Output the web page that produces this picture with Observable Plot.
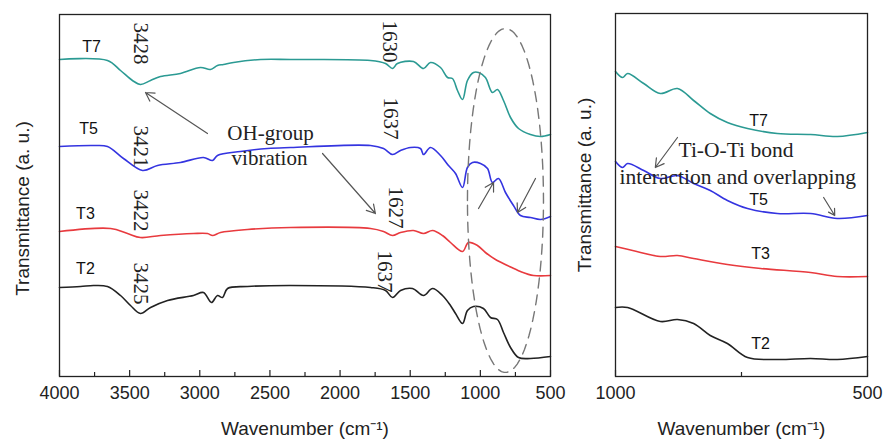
<!DOCTYPE html>
<html><head><meta charset="utf-8">
<script src="https://cdn.jsdelivr.net/npm/d3@7"></script>
<script src="https://cdn.jsdelivr.net/npm/@observablehq/plot@0.6"></script>
<style>
html,body{margin:0;padding:0;background:#fff;}
#wrap{display:flex;width:886px;height:441px;overflow:hidden;}
svg{display:block;}
</style></head><body><div id="wrap"></div>
<script>
// ---- Data (wavenumber cm^-1, transmittance a.u.) ----
const seriesNames = ["T7", "T5", "T3", "T2"];
const seriesColors = ["#2b9a93", "#3434e0", "#e83a3e", "#222222"];

const t7Left = [[4000,317],[3658,316],[3565,306],[3480,296],[3423,292],[3351,296],[3280,300],[3138,303],[2995,309],[2924,307],[2874,311],[2831,312],[2760,314],[2567,317],[2353,317],[1783,316],[1676,313],[1626,308],[1591,313],[1477,315],[1405,308],[1356,314],[1284,309],[1234,299],[1199,298],[1163,286],[1127,277],[1092,296],[1049,304],[1013,304],[964,299],[914,284],[878,287],[835,276],[785,259],[728,248],[643,242],[571,240],[500,242]];
const t5Left = [[4000,230],[3758,231],[3658,230],[3544,218],[3408,206],[3301,211],[3138,214],[2974,219],[2909,216],[2874,221],[2710,225],[2517,228],[2353,229],[1783,231],[1690,228],[1626,222],[1569,226],[1498,229],[1427,228],[1405,222],[1356,229],[1284,221],[1227,211],[1177,203],[1127,189],[1092,209],[1056,214],[999,213],[949,208],[914,194],[871,198],[821,184],[764,171],[714,161],[643,159],[571,157],[500,160]];
const t3Left = [[4000,145],[3636,148],[3515,143],[3423,139],[3280,141],[3045,143],[2945,143],[2909,141],[2852,144],[2660,147],[2353,149],[1783,148],[1690,145],[1626,141],[1569,144],[1477,146],[1405,143],[1341,146],[1270,141],[1213,134],[1127,125],[1085,134],[1021,131],[964,124],[892,117],[807,111],[714,105],[621,101],[500,101]];
const t2Left = [[4000,89],[3850,90],[3758,91],[3658,90],[3565,81],[3494,71],[3423,63],[3351,69],[3230,76],[3045,81],[2974,84],[2917,74],[2874,81],[2838,79],[2802,88],[2660,90],[2353,91],[1783,89],[1676,86],[1626,79],[1569,86],[1484,88],[1405,81],[1341,88],[1270,81],[1213,71],[1177,63],[1127,53],[1092,66],[1049,70],[978,68],[928,59],[878,57],[835,44],[785,29],[728,19],[643,18],[500,20]];

const t7Right = [[1000,305],[986,299],[976,303],[944,293],[911,283],[877,288],[845,276],[812,263],[778,254],[738,248],[679,243],[613,242],[560,240],[500,244]];
const t5Right = [[1000,215],[986,209],[976,213],[944,206],[911,198],[877,201],[845,193],[812,186],[778,176],[738,168],[679,163],[613,163],[560,158],[500,161]];
const t3Right = [[1000,130],[966,126],[911,120],[877,121],[845,118],[778,112],[712,108],[613,104],[560,100],[500,100]];
const t2Right = [[1000,69],[976,69],[911,55],[877,57],[845,53],[812,41],[778,33],[738,19],[679,17],[613,18],[560,17],[500,20]];

const leftMajorTicks = [4000,3500,3000,2500,2000,1500,1000,500];
const leftMinorTicks = [3750,3250,2750,2250,1750,1250,750];
const rightMajorTicks = [1000,500];
const rightMinorTicks = [750];

// series labels
const leftLabelWn = [3772,3793,3815,3815];
const leftLabelV = [330,248,163,108];
const rightLabelWn = [716,716,712,712];
const rightLabelV = [256,177,123,33];

// peak annotations
const peakText = ["3428","3421","3422","3425","1630","1637","1627","1637"];
const peakWn = [3423,3423,3423,3423,1648,1641,1605,1683];
const peakV = [333,230,166,93,335,258,169,105];

// arrows [x1,y1,x2,y2]
const leftArrows = [[2945,243,3387,284],[2125,223,1748,163],[1013,168,906,194],[607,198,735,164]];
const rightArrows = [[877,239,921,209],[587,179,565,161]];

const ohLines = ["OH-group","vibration"];
const ohWn = [2496,2503];
const ohV = [243,218];

const tiLines = ["Ti-O-Ti bond","interaction and overlapping"];
const tiWn = [875,992];
const tiV = [226,199];

// ---- helpers ----
const rows = a => a.map(([wn, v]) => ({wn, v}));
const sans = "Liberation Sans, Arial, sans-serif";
const serif = "Liberation Serif, Times New Roman, serif";

// dashed ellipse (decoration) around the Ti-O-Ti region
const ell = d3.range(0, 361, 4).map(t => ({wn: 821 + 271*Math.cos(t*Math.PI/180), v: 176 + 172*Math.sin(t*Math.PI/180)}));

function axes(major, minor) {
  return [
    Plot.ruleX(major, {x: d => d, y1: 0, y2: 6, stroke: "#222", strokeWidth: 1.2}),
    Plot.ruleX(minor, {x: d => d, y1: 0, y2: 4, stroke: "#222", strokeWidth: 1.2}),
    Plot.axisX({ticks: major, tickSize: 0, tickPadding: 10, tickFormat: d => String(d), fontSize: 18, fontFamily: sans, fill: "#222"})
  ];
}

const leftData = [t7Left, t5Left, t3Left, t2Left];
const rightData = [t7Right, t5Right, t3Right, t2Right];

const left = Plot.plot({
  width: 575, height: 441,
  marginLeft: 59, marginRight: 25, marginTop: 14, marginBottom: 65,
  x: {domain: [4000, 500], label: null, axis: null},
  y: {domain: [0, 362], axis: null},
  style: {background: "#fff", overflow: "visible"},
  marks: [
    ...leftData.map((d, i) => Plot.line(rows(d), {x: "wn", y: "v", stroke: seriesColors[i], strokeWidth: 1.6, curve: "catmull-rom"})),
    Plot.line(ell, {x: "wn", y: "v", stroke: "#777", strokeWidth: 1.4, strokeDasharray: "10,7"}),
    Plot.text(seriesNames, {x: (d, i) => leftLabelWn[i], y: (d, i) => leftLabelV[i], text: d => d, fontSize: 16, fontFamily: sans, fill: "#111"}),
    Plot.text(peakText, {x: (d, i) => peakWn[i], y: (d, i) => peakV[i], text: d => d, rotate: 90, fontSize: 21, fontFamily: serif, fill: "#222"}),
    Plot.text(ohLines, {x: (d, i) => ohWn[i], y: (d, i) => ohV[i], text: d => d, fontSize: 21, fontFamily: serif, fill: "#222"}),
    Plot.arrow(leftArrows, {x1: d => d[0], y1: d => d[1], x2: d => d[2], y2: d => d[3], stroke: "#555", strokeWidth: 1.2, headLength: 12}),
    Plot.frame({stroke: "#222", strokeWidth: 1.3}),
    ...axes(leftMajorTicks, leftMinorTicks),
    Plot.text(["Transmittance (a. u.)"], {frameAnchor: "left", textAnchor: "middle", lineAnchor: "middle", dx: -37, dy: 13, rotate: -90, fontSize: 19, fontFamily: sans, fill: "#222"}),
    Plot.text(["Wavenumber (cm\u207B\u00B9)"], {frameAnchor: "bottom", lineAnchor: "middle", dy: 52, fontSize: 19, fontFamily: sans, fill: "#222"})
  ]
});

const right = Plot.plot({
  width: 311, height: 441,
  marginLeft: 40, marginRight: 19, marginTop: 13, marginBottom: 65,
  x: {domain: [1000, 500], label: null, axis: null},
  y: {domain: [0, 363], axis: null},
  style: {background: "#fff", overflow: "visible"},
  marks: [
    ...rightData.map((d, i) => Plot.line(rows(d), {x: "wn", y: "v", stroke: seriesColors[i], strokeWidth: 1.6, curve: "catmull-rom"})),
    Plot.text(seriesNames, {x: (d, i) => rightLabelWn[i], y: (d, i) => rightLabelV[i], text: d => d, fontSize: 16, fontFamily: sans, fill: "#111"}),
    Plot.text(tiLines, {x: (d, i) => tiWn[i], y: (d, i) => tiV[i], text: d => d, textAnchor: "start", fontSize: 21.5, fontFamily: serif, fill: "#222"}),
    Plot.arrow(rightArrows, {x1: d => d[0], y1: d => d[1], x2: d => d[2], y2: d => d[3], stroke: "#555", strokeWidth: 1.2, headLength: 12}),
    Plot.frame({stroke: "#222", strokeWidth: 1.3}),
    ...axes(rightMajorTicks, rightMinorTicks),
    Plot.text(["Transmittance (a. u.)"], {frameAnchor: "left", textAnchor: "middle", lineAnchor: "middle", dx: -31, dy: -10, rotate: -90, fontSize: 19, fontFamily: sans, fill: "#222"}),
    Plot.text(["Wavenumber (cm\u207B\u00B9)"], {frameAnchor: "bottom", lineAnchor: "middle", dy: 52, fontSize: 19, fontFamily: sans, fill: "#222"})
  ]
});

document.getElementById("wrap").append(left, right);
</script>
</body></html>
